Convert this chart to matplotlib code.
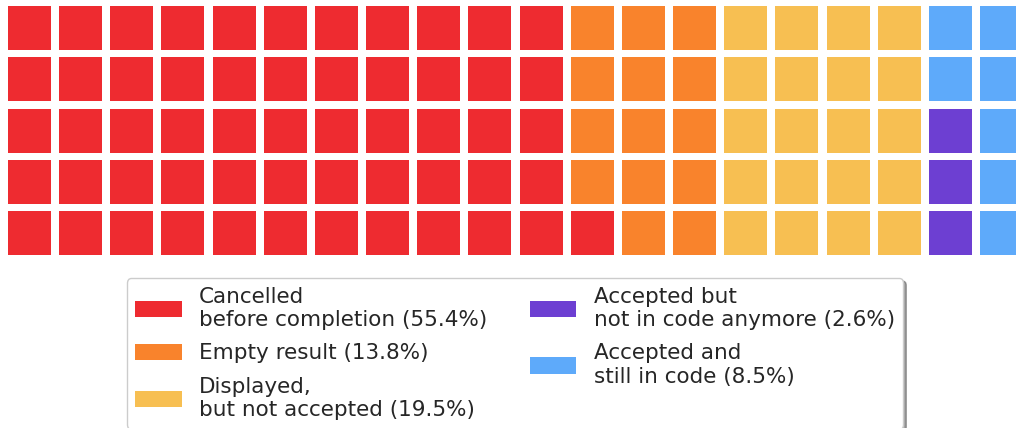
import matplotlib
matplotlib.use("Agg")
import matplotlib.pyplot as plt
from matplotlib.patches import Rectangle, Patch

labels = ["Cancelled\nbefore completion (55.4%)",
          "Empty result (13.8%)",
          "Displayed,\nbut not accepted (19.5%)",
          "Accepted but\nnot in code anymore (2.6%)",
          "Accepted and\nstill in code (8.5%)"]
cells = [56, 14, 20, 3, 7]
colors = ["#ee2b30", "#f9832c", "#f7bf52", "#6d3fd2", "#5eaafa"]

n_rows = 5

fig = plt.figure(figsize=(10.16, 4.28), dpi=100)
ax = fig.add_axes([0, 0, 1, 1])
ax.set_xlim(0, 1016)
ax.set_ylim(428, 0)
ax.axis("off")

# waffle, filled column by column from the bottom left
k = 0
for count, color in zip(cells, colors):
    for _ in range(count):
        col = k // n_rows
        row = n_rows - 1 - k % n_rows
        ax.add_patch(Rectangle((8 + col * 51.16, 6 + row * 51.25), 43, 44,
                               facecolor=color, edgecolor="none"))
        k += 1

handles = [Patch(facecolor=c, edgecolor="none") for c in colors]
leg = fig.legend(handles, labels, ncol=2, loc="upper center",
                 bbox_to_anchor=(0.507, 0.35), borderaxespad=0,
                 fontsize=15.5, shadow=True, frameon=True, labelspacing=0.62,
                 handlelength=2.15, handleheight=0.8, labelcolor="#262626")
leg.get_frame().set_edgecolor("#cccccc")

fig.savefig("out.png", dpi=100)
